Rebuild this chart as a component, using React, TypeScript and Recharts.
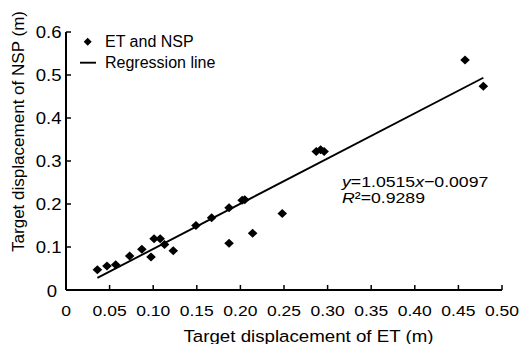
import React from "react";
import { ScatterChart, Scatter, XAxis, YAxis, ReferenceLine } from "recharts";

const etValues = [0.036, 0.047, 0.057, 0.073, 0.087, 0.0975, 0.101, 0.108, 0.113, 0.123, 0.149, 0.167, 0.187, 0.187, 0.202, 0.205, 0.214, 0.248, 0.287, 0.292, 0.296, 0.4576, 0.4786];
const nspValues = [0.047, 0.056, 0.059, 0.079, 0.095, 0.077, 0.119, 0.119, 0.106, 0.091, 0.150, 0.168, 0.191, 0.109, 0.209, 0.210, 0.132, 0.178, 0.322, 0.326, 0.322, 0.535, 0.474];
const xTicks = [0, 0.05, 0.1, 0.15, 0.2, 0.25, 0.3, 0.35, 0.4, 0.45, 0.5];
const xTickLabels = ["0", "0.05", "0.10", "0.15", "0.20", "0.25", "0.30", "0.35", "0.40", "0.45", "0.50"];
const yTicks = [0, 0.1, 0.2, 0.3, 0.4, 0.5, 0.6];
const yTickLabels = ["0", "0.1", "0.2", "0.3", "0.4", "0.5", "0.6"];
const slope = 1.0515;
const intercept = -0.0097;
const regressionX = [0.036, 0.4786];
const legendLabels = ["ET and NSP", "Regression line"];
const xTitle = "Target displacement of ET (m)";
const yTitle = "Target displacement of NSP (m)";

const points = etValues.map((x, i) => ({ x, y: nspValues[i] }));
const regSegment = regressionX.map((x) => ({ x, y: slope * x + intercept }));

const FONT = "'Liberation Sans', Arial, sans-serif";

const Diamond = (props: any) => {
  const { cx, cy } = props;
  const rx = 4.8;
  const ry = 4.5;
  return <polygon points={`${cx},${cy - ry} ${cx + rx},${cy} ${cx},${cy + ry} ${cx - rx},${cy}`} fill="#000" />;
};

const XTick = (props: any) => {
  const { x, y, payload, index } = props;
  return (
    <g>
      <line x1={x} y1={y} x2={x} y2={y - 5} stroke="#000" strokeWidth={1.5} />
      <text
        transform={`translate(${x},${y + 26}) scale(1.13,1)`}
        textAnchor="middle"
        fontSize={15.5}
        fontFamily={FONT}
        fill="#000"
      >
        {xTickLabels[index] ?? payload.value}
      </text>
    </g>
  );
};

const YTick = (props: any) => {
  const { x, y, payload, index } = props;
  const isZero = payload.value === 0;
  return (
    <g>
      {!isZero && <line x1={x} y1={y} x2={x + 5} y2={y} stroke="#000" strokeWidth={1.5} />}
      <text
        transform={`translate(${isZero ? x - 9 : x - 4.5},${y + (isZero ? 6.5 : 5.5)}) scale(1.16,1)`}
        textAnchor="end"
        fontSize={16}
        fontFamily={FONT}
        fill="#000"
      >
        {yTickLabels[index] ?? payload.value}
      </text>
    </g>
  );
};

export default function App() {
  return (
    <div style={{ position: "absolute", left: 0, top: 0, width: 524, height: 344, background: "#fff", fontFamily: FONT }}>
      <ScatterChart width={524} height={344} margin={{ top: 32, right: 22, bottom: 24, left: 0 }}>
        <XAxis
          type="number"
          dataKey="x"
          domain={[0, 0.5]}
          ticks={xTicks}
          tick={<XTick />}
          tickLine={false}
          tickSize={0}
          tickMargin={0}
          axisLine={{ stroke: "#000", strokeWidth: 2 }}
          height={30}
          interval={0}
          allowDataOverflow
          label={{
            content: () => (
              <text
                transform="translate(308.5,341.5) scale(1.1,1)"
                textAnchor="middle"
                fontSize={17}
                fontFamily={FONT}
                fill="#000"
              >
                {xTitle}
              </text>
            ),
          }}
        />
        <YAxis
          type="number"
          dataKey="y"
          domain={[0, 0.6]}
          ticks={yTicks}
          tick={<YTick />}
          tickLine={false}
          tickSize={0}
          tickMargin={0}
          axisLine={{ stroke: "#000", strokeWidth: 2 }}
          width={66}
          interval={0}
          allowDataOverflow
          label={{
            content: () => (
              <text
                transform="translate(24,131.5) rotate(-90) scale(1.065,1)"
                textAnchor="middle"
                fontSize={16}
                fontFamily={FONT}
                fill="#000"
              >
                {yTitle}
              </text>
            ),
          }}
        />
        <ReferenceLine
          segment={[regSegment[0], regSegment[1]]}
          stroke="#000"
          strokeWidth={1.9}
          ifOverflow="visible"
        />
        <Scatter data={points} shape={<Diamond />} isAnimationActive={false} />
      </ScatterChart>
      <svg
        width={524}
        height={344}
        style={{ position: "absolute", left: 0, top: 0, pointerEvents: "none" }}
        fontFamily={FONT}
      >
        <polygon points="87.7,37.7 91.7,41.7 87.7,45.7 83.7,41.7" fill="#000" />
        <text x={105} y={46.5} fontSize={16} fill="#000">
          {legendLabels[0]}
        </text>
        <line x1={80} y1={62.7} x2={96} y2={62.7} stroke="#000" strokeWidth={1.9} />
        <text x={105} y={68} fontSize={16} fill="#000">
          {legendLabels[1]}
        </text>
        <text transform="translate(342,187) scale(1.14,1)" fontSize={15.5} fill="#000">
          <tspan fontStyle="italic">y</tspan>
          <tspan>=1.0515</tspan>
          <tspan fontStyle="italic">x</tspan>
          <tspan>−0.0097</tspan>
        </text>
        <text transform="translate(342,203) scale(1.14,1)" fontSize={15.5} fill="#000">
          <tspan fontStyle="italic">R</tspan>
          <tspan>²=0.9289</tspan>
        </text>
      </svg>
    </div>
  );
}
